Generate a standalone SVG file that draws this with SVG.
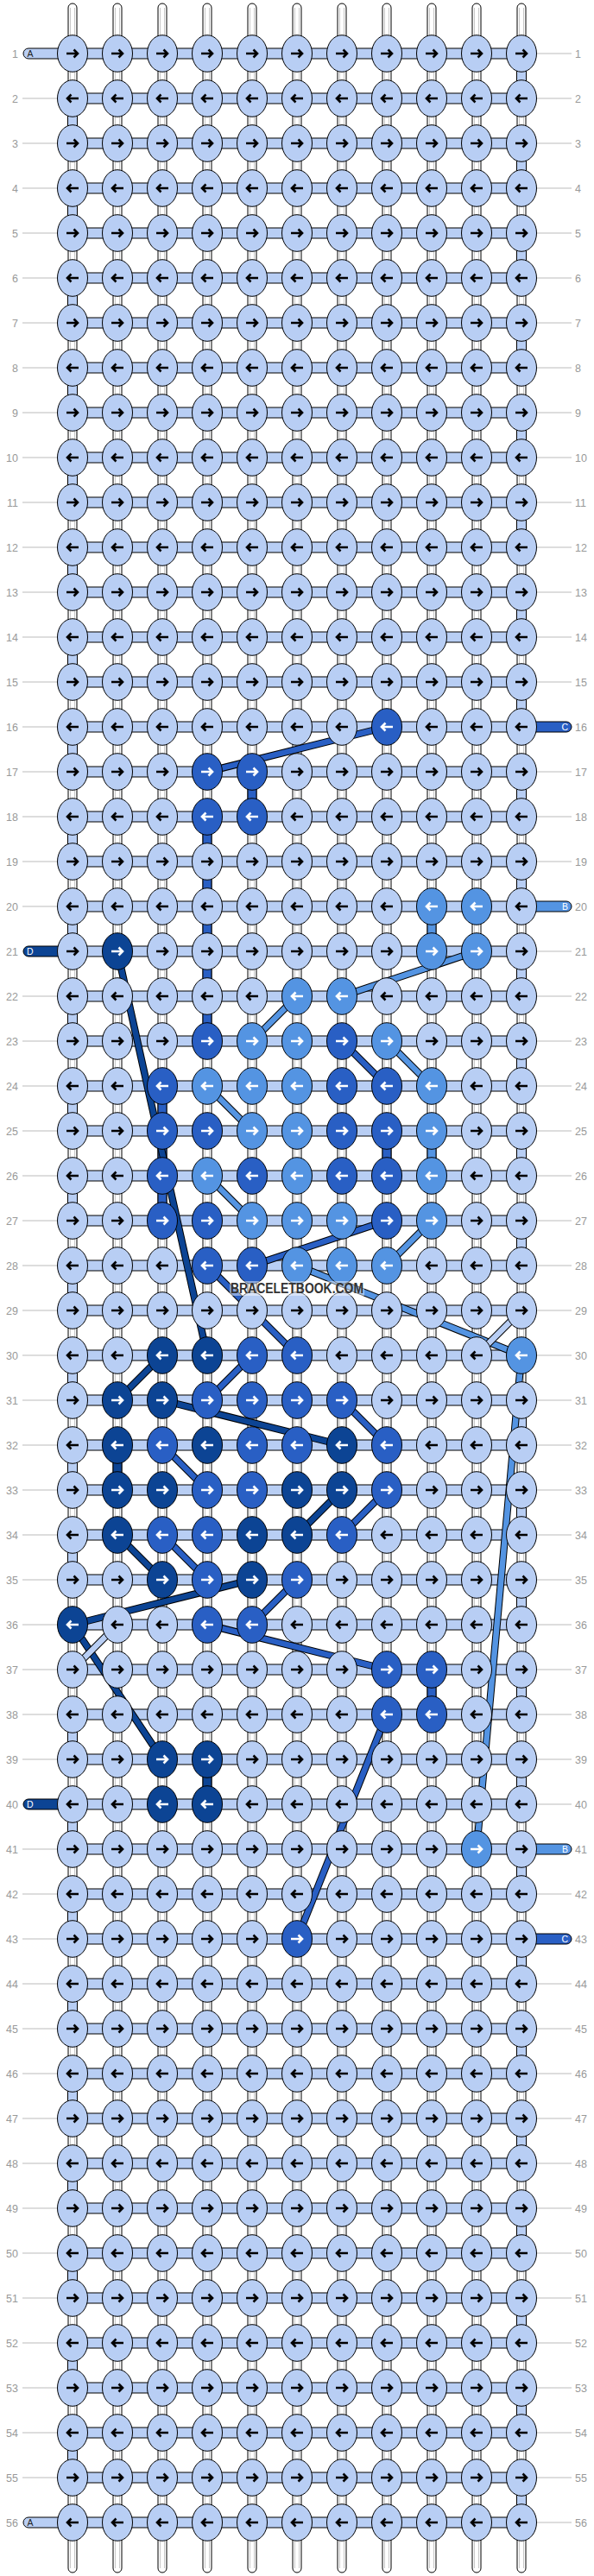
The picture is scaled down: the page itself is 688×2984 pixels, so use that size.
<svg xmlns="http://www.w3.org/2000/svg" xmlns:xlink="http://www.w3.org/1999/xlink" width="688" height="2984" viewBox="0 0 688 2984">
<style>
.k{fill:#b8cef4;color:#000}
.C{fill:#295fc4;color:#fff}
.B{fill:#5494e2;color:#fff}
.D{fill:#0c4494;color:#fff}
.t{fill:#fff;stroke:#000;stroke-width:1}
.il{fill:none;stroke:#c8c8c8;stroke-width:1}
.h{fill:#b8cef4;stroke:#000;stroke-width:1}
.vC{fill:#295fc4;stroke:#000;stroke-width:1}
.vB{fill:#5494e2;stroke:#000;stroke-width:1}
.vD{fill:#0c4494;stroke:#000;stroke-width:1}
.ll{fill:none;stroke:#bbb;stroke-width:1}
.lb{font-family:"Liberation Sans",Arial,sans-serif;font-size:12.5px;fill:#999}
.le{text-anchor:end}
.ct{font-family:"Liberation Sans",Arial,sans-serif;font-size:10.5px}
.o{fill:none;stroke:#000;stroke-width:8.5}
.sC{fill:none;stroke:#295fc4;stroke-width:6.5}
.sB{fill:none;stroke:#5494e2;stroke-width:6.5}
.sD{fill:none;stroke:#0c4494;stroke-width:6.5}
.sA{fill:none;stroke:#b8cef4;stroke-width:6.5}
</style>
<defs>
<g id="R"><ellipse rx="17.5" ry="21.3" stroke="#000" stroke-width="1"/><path d="M-7 0H6M1.5-4.5L6 0L1.5 4.5" fill="none" stroke="currentColor" stroke-width="2.6"/></g>
<g id="L"><ellipse rx="17.5" ry="21.3" stroke="#000" stroke-width="1"/><path d="M7 0H-6M-1.5-4.5L-6 0L-1.5 4.5" fill="none" stroke="currentColor" stroke-width="2.6"/></g>
</defs>
<rect width="688" height="2984" fill="#fff"/>
<g id="connectors">
<g id="tubes">
<rect class="t" x="79" y="4" width="10" height="2976" rx="5"/>
<rect class="t" x="131" y="4" width="10" height="2976" rx="5"/>
<rect class="t" x="183" y="4" width="10" height="2976" rx="5"/>
<rect class="t" x="235" y="4" width="10" height="2976" rx="5"/>
<rect class="t" x="287" y="4" width="10" height="2976" rx="5"/>
<rect class="t" x="339" y="4" width="10" height="2976" rx="5"/>
<rect class="t" x="391" y="4" width="10" height="2976" rx="5"/>
<rect class="t" x="443" y="4" width="10" height="2976" rx="5"/>
<rect class="t" x="495" y="4" width="10" height="2976" rx="5"/>
<rect class="t" x="547" y="4" width="10" height="2976" rx="5"/>
<rect class="t" x="599" y="4" width="10" height="2976" rx="5"/>
<path class="il" d="M81.5 9V2975M86.5 9V2975M133.5 9V2975M138.5 9V2975M185.5 9V2975M190.5 9V2975M237.5 9V2975M242.5 9V2975M289.5 9V2975M294.5 9V2975M341.5 9V2975M346.5 9V2975M393.5 9V2975M398.5 9V2975M445.5 9V2975M450.5 9V2975M497.5 9V2975M502.5 9V2975M549.5 9V2975M554.5 9V2975M601.5 9V2975M606.5 9V2975"/>
</g>
<g id="turns">
<line x1="84" y1="114" x2="84" y2="1830" stroke="#000" stroke-width="12" stroke-dasharray="52 52"/>
<line x1="84" y1="114" x2="84" y2="1830" stroke="#b8cef4" stroke-width="10" stroke-dasharray="52 52"/>
<line x1="84" y1="1986" x2="84" y2="2870" stroke="#000" stroke-width="12" stroke-dasharray="52 52"/>
<line x1="84" y1="1986" x2="84" y2="2870" stroke="#b8cef4" stroke-width="10" stroke-dasharray="52 52"/>
<line x1="604" y1="62" x2="604" y2="1466" stroke="#000" stroke-width="12" stroke-dasharray="52 52"/>
<line x1="604" y1="62" x2="604" y2="1466" stroke="#b8cef4" stroke-width="10" stroke-dasharray="52 52"/>
<line x1="604" y1="1622" x2="604" y2="2922" stroke="#000" stroke-width="12" stroke-dasharray="52 52"/>
<line x1="604" y1="1622" x2="604" y2="2922" stroke="#b8cef4" stroke-width="10" stroke-dasharray="52 52"/>
</g>
<g id="vertical-colored">
<rect class="vC" x="287" y="894" width="10" height="52"/>
<rect class="vC" x="235" y="946" width="10" height="260"/>
<rect class="vC" x="183" y="1258" width="10" height="156"/>
<rect class="vC" x="443" y="1310" width="10" height="52"/>
<rect class="vC" x="495" y="1934" width="10" height="52"/>
<rect class="vB" x="495" y="1050" width="10" height="52"/>
<rect class="vB" x="495" y="1310" width="10" height="52"/>
<rect class="vD" x="131" y="1674" width="10" height="52"/>
<rect class="vD" x="235" y="2038" width="10" height="52"/>
</g>
<g id="rows">
<rect class="h" x="84" y="56" width="520" height="12"/>
<rect class="h" x="84" y="108" width="520" height="12"/>
<rect class="h" x="84" y="160" width="520" height="12"/>
<rect class="h" x="84" y="212" width="520" height="12"/>
<rect class="h" x="84" y="264" width="520" height="12"/>
<rect class="h" x="84" y="316" width="520" height="12"/>
<rect class="h" x="84" y="368" width="520" height="12"/>
<rect class="h" x="84" y="420" width="520" height="12"/>
<rect class="h" x="84" y="472" width="520" height="12"/>
<rect class="h" x="84" y="524" width="520" height="12"/>
<rect class="h" x="84" y="576" width="520" height="12"/>
<rect class="h" x="84" y="628" width="520" height="12"/>
<rect class="h" x="84" y="680" width="520" height="12"/>
<rect class="h" x="84" y="732" width="520" height="12"/>
<rect class="h" x="84" y="784" width="520" height="12"/>
<rect class="h" x="84" y="836" width="520" height="12"/>
<rect class="h" x="84" y="888" width="520" height="12"/>
<rect class="h" x="84" y="940" width="520" height="12"/>
<rect class="h" x="84" y="992" width="520" height="12"/>
<rect class="h" x="84" y="1044" width="520" height="12"/>
<rect class="h" x="84" y="1096" width="520" height="12"/>
<rect class="h" x="84" y="1148" width="520" height="12"/>
<rect class="h" x="84" y="1200" width="520" height="12"/>
<rect class="h" x="84" y="1252" width="520" height="12"/>
<rect class="h" x="84" y="1304" width="520" height="12"/>
<rect class="h" x="84" y="1356" width="520" height="12"/>
<rect class="h" x="84" y="1408" width="520" height="12"/>
<rect class="h" x="84" y="1460" width="520" height="12"/>
<rect class="h" x="84" y="1512" width="520" height="12"/>
<rect class="h" x="84" y="1564" width="520" height="12"/>
<rect class="h" x="84" y="1616" width="520" height="12"/>
<rect class="h" x="84" y="1668" width="520" height="12"/>
<rect class="h" x="84" y="1720" width="520" height="12"/>
<rect class="h" x="84" y="1772" width="520" height="12"/>
<rect class="h" x="84" y="1824" width="520" height="12"/>
<rect class="h" x="84" y="1876" width="520" height="12"/>
<rect class="h" x="84" y="1928" width="520" height="12"/>
<rect class="h" x="84" y="1980" width="520" height="12"/>
<rect class="h" x="84" y="2032" width="520" height="12"/>
<rect class="h" x="84" y="2084" width="520" height="12"/>
<rect class="h" x="84" y="2136" width="520" height="12"/>
<rect class="h" x="84" y="2188" width="520" height="12"/>
<rect class="h" x="84" y="2240" width="520" height="12"/>
<rect class="h" x="84" y="2292" width="520" height="12"/>
<rect class="h" x="84" y="2344" width="520" height="12"/>
<rect class="h" x="84" y="2396" width="520" height="12"/>
<rect class="h" x="84" y="2448" width="520" height="12"/>
<rect class="h" x="84" y="2500" width="520" height="12"/>
<rect class="h" x="84" y="2552" width="520" height="12"/>
<rect class="h" x="84" y="2604" width="520" height="12"/>
<rect class="h" x="84" y="2656" width="520" height="12"/>
<rect class="h" x="84" y="2708" width="520" height="12"/>
<rect class="h" x="84" y="2760" width="520" height="12"/>
<rect class="h" x="84" y="2812" width="520" height="12"/>
<rect class="h" x="84" y="2864" width="520" height="12"/>
<rect class="h" x="84" y="2916" width="520" height="12"/>
</g>
<g id="capsules">
<rect x="27" y="56" width="60" height="12" rx="6" fill="#b8cef4" stroke="#000"/>
<text class="ct" x="31.5" y="66" fill="#222">A</text>
<rect x="27" y="1096" width="60" height="12" rx="6" fill="#0c4494" stroke="#000"/>
<text class="ct" x="31" y="1106" fill="#fff">D</text>
<rect x="27" y="2084" width="60" height="12" rx="6" fill="#0c4494" stroke="#000"/>
<text class="ct" x="31" y="2094" fill="#fff">D</text>
<rect x="27" y="2916" width="60" height="12" rx="6" fill="#b8cef4" stroke="#000"/>
<text class="ct" x="31.5" y="2926" fill="#222">A</text>
<rect x="600" y="836" width="62" height="12" rx="6" fill="#295fc4" stroke="#000"/>
<text class="ct le" x="658" y="846" fill="#fff">C</text>
<rect x="600" y="1044" width="62" height="12" rx="6" fill="#5494e2" stroke="#000"/>
<text class="ct le" x="658" y="1054" fill="#fff">B</text>
<rect x="600" y="2136" width="62" height="12" rx="6" fill="#5494e2" stroke="#000"/>
<text class="ct le" x="658" y="2146" fill="#fff">B</text>
<rect x="600" y="2240" width="62" height="12" rx="6" fill="#295fc4" stroke="#000"/>
<text class="ct le" x="658" y="2250" fill="#fff">C</text>
</g>
<g id="strands">
<path class="o" d="M448 842L240 894"/><path class="sC" d="M448 842L240 894"/>
<path class="o" d="M552 1102L396 1154"/><path class="sB" d="M552 1102L396 1154"/>
<path class="o" d="M344 1154L292 1206"/><path class="sB" d="M344 1154L292 1206"/>
<path class="o" d="M396 1206L448 1258"/><path class="sC" d="M396 1206L448 1258"/>
<path class="o" d="M448 1206L500 1258"/><path class="sB" d="M448 1206L500 1258"/>
<path class="o" d="M240 1258L292 1310"/><path class="sB" d="M240 1258L292 1310"/>
<path class="o" d="M240 1362L292 1414"/><path class="sB" d="M240 1362L292 1414"/>
<path class="o" d="M448 1414L292 1466"/><path class="sC" d="M448 1414L292 1466"/>
<path class="o" d="M500 1414L448 1466"/><path class="sB" d="M500 1414L448 1466"/>
<path class="o" d="M136 1102L240 1570"/><path class="sD" d="M136 1102L240 1570"/>
<path class="o" d="M240 1466L344 1570"/><path class="sC" d="M240 1466L344 1570"/>
<path class="o" d="M344 1466L604 1570"/><path class="sB" d="M344 1466L604 1570"/>
<path class="o" d="M604 1570L552 2142"/><path class="sB" d="M604 1570L552 2142"/>
<path class="o" d="M188 1570L136 1622"/><path class="sD" d="M188 1570L136 1622"/>
<path class="o" d="M292 1570L240 1622"/><path class="sC" d="M292 1570L240 1622"/>
<path class="o" d="M188 1622L396 1674"/><path class="sD" d="M188 1622L396 1674"/>
<path class="o" d="M396 1622L448 1674"/><path class="sC" d="M396 1622L448 1674"/>
<path class="o" d="M188 1674L240 1726"/><path class="sC" d="M188 1674L240 1726"/>
<path class="o" d="M396 1726L344 1778"/><path class="sD" d="M396 1726L344 1778"/>
<path class="o" d="M448 1726L396 1778"/><path class="sC" d="M448 1726L396 1778"/>
<path class="o" d="M136 1778L188 1830"/><path class="sD" d="M136 1778L188 1830"/>
<path class="o" d="M188 1778L240 1830"/><path class="sC" d="M188 1778L240 1830"/>
<path class="o" d="M292 1830L84 1882"/><path class="sD" d="M292 1830L84 1882"/>
<path class="o" d="M344 1830L292 1882"/><path class="sC" d="M344 1830L292 1882"/>
<path class="o" d="M84 1882L188 2038"/><path class="sD" d="M84 1882L188 2038"/>
<path class="o" d="M240 1882L448 1934"/><path class="sC" d="M240 1882L448 1934"/>
<path class="o" d="M448 1986L344 2246"/><path class="sC" d="M448 1986L344 2246"/>
<path class="o" d="M604 1518L552 1570"/><path class="sA" d="M604 1518L552 1570"/>
<path class="o" d="M136 1882L84 1934"/><path class="sA" d="M136 1882L84 1934"/>
</g>
</g>
<g id="row-labels">
<path class="ll" d="M26 114h40M26 166h40M26 218h40M26 270h40M26 322h40M26 374h40M26 426h40M26 478h40M26 530h40M26 582h40M26 634h40M26 686h40M26 738h40M26 790h40M26 842h40M26 894h40M26 946h40M26 998h40M26 1050h40M26 1154h40M26 1206h40M26 1258h40M26 1310h40M26 1362h40M26 1414h40M26 1466h40M26 1518h40M26 1570h40M26 1622h40M26 1674h40M26 1726h40M26 1778h40M26 1830h40M26 1882h40M26 1934h40M26 1986h40M26 2038h40M26 2142h40M26 2194h40M26 2246h40M26 2298h40M26 2350h40M26 2402h40M26 2454h40M26 2506h40M26 2558h40M26 2610h40M26 2662h40M26 2714h40M26 2766h40M26 2818h40M26 2870h40"/>
<path class="ll" d="M622 62h40M622 114h40M622 166h40M622 218h40M622 270h40M622 322h40M622 374h40M622 426h40M622 478h40M622 530h40M622 582h40M622 634h40M622 686h40M622 738h40M622 790h40M622 894h40M622 946h40M622 998h40M622 1102h40M622 1154h40M622 1206h40M622 1258h40M622 1310h40M622 1362h40M622 1414h40M622 1466h40M622 1518h40M622 1570h40M622 1622h40M622 1674h40M622 1726h40M622 1778h40M622 1830h40M622 1882h40M622 1934h40M622 1986h40M622 2038h40M622 2090h40M622 2194h40M622 2298h40M622 2350h40M622 2402h40M622 2454h40M622 2506h40M622 2558h40M622 2610h40M622 2662h40M622 2714h40M622 2766h40M622 2818h40M622 2870h40M622 2922h40"/>
<g class="lb le">
<text x="21" y="66.5">1</text><text x="21" y="118.5">2</text><text x="21" y="170.5">3</text><text x="21" y="222.5">4</text><text x="21" y="274.5">5</text><text x="21" y="326.5">6</text><text x="21" y="378.5">7</text><text x="21" y="430.5">8</text><text x="21" y="482.5">9</text><text x="21" y="534.5">10</text><text x="21" y="586.5">11</text><text x="21" y="638.5">12</text><text x="21" y="690.5">13</text><text x="21" y="742.5">14</text><text x="21" y="794.5">15</text><text x="21" y="846.5">16</text><text x="21" y="898.5">17</text><text x="21" y="950.5">18</text><text x="21" y="1002.5">19</text><text x="21" y="1054.5">20</text><text x="21" y="1106.5">21</text><text x="21" y="1158.5">22</text><text x="21" y="1210.5">23</text><text x="21" y="1262.5">24</text><text x="21" y="1314.5">25</text><text x="21" y="1366.5">26</text><text x="21" y="1418.5">27</text><text x="21" y="1470.5">28</text><text x="21" y="1522.5">29</text><text x="21" y="1574.5">30</text><text x="21" y="1626.5">31</text><text x="21" y="1678.5">32</text><text x="21" y="1730.5">33</text><text x="21" y="1782.5">34</text><text x="21" y="1834.5">35</text><text x="21" y="1886.5">36</text><text x="21" y="1938.5">37</text><text x="21" y="1990.5">38</text><text x="21" y="2042.5">39</text><text x="21" y="2094.5">40</text><text x="21" y="2146.5">41</text><text x="21" y="2198.5">42</text><text x="21" y="2250.5">43</text><text x="21" y="2302.5">44</text><text x="21" y="2354.5">45</text><text x="21" y="2406.5">46</text><text x="21" y="2458.5">47</text><text x="21" y="2510.5">48</text><text x="21" y="2562.5">49</text><text x="21" y="2614.5">50</text><text x="21" y="2666.5">51</text><text x="21" y="2718.5">52</text><text x="21" y="2770.5">53</text><text x="21" y="2822.5">54</text><text x="21" y="2874.5">55</text><text x="21" y="2926.5">56</text>
</g>
<g class="lb">
<text x="666" y="66.5">1</text><text x="666" y="118.5">2</text><text x="666" y="170.5">3</text><text x="666" y="222.5">4</text><text x="666" y="274.5">5</text><text x="666" y="326.5">6</text><text x="666" y="378.5">7</text><text x="666" y="430.5">8</text><text x="666" y="482.5">9</text><text x="666" y="534.5">10</text><text x="666" y="586.5">11</text><text x="666" y="638.5">12</text><text x="666" y="690.5">13</text><text x="666" y="742.5">14</text><text x="666" y="794.5">15</text><text x="666" y="846.5">16</text><text x="666" y="898.5">17</text><text x="666" y="950.5">18</text><text x="666" y="1002.5">19</text><text x="666" y="1054.5">20</text><text x="666" y="1106.5">21</text><text x="666" y="1158.5">22</text><text x="666" y="1210.5">23</text><text x="666" y="1262.5">24</text><text x="666" y="1314.5">25</text><text x="666" y="1366.5">26</text><text x="666" y="1418.5">27</text><text x="666" y="1470.5">28</text><text x="666" y="1522.5">29</text><text x="666" y="1574.5">30</text><text x="666" y="1626.5">31</text><text x="666" y="1678.5">32</text><text x="666" y="1730.5">33</text><text x="666" y="1782.5">34</text><text x="666" y="1834.5">35</text><text x="666" y="1886.5">36</text><text x="666" y="1938.5">37</text><text x="666" y="1990.5">38</text><text x="666" y="2042.5">39</text><text x="666" y="2094.5">40</text><text x="666" y="2146.5">41</text><text x="666" y="2198.5">42</text><text x="666" y="2250.5">43</text><text x="666" y="2302.5">44</text><text x="666" y="2354.5">45</text><text x="666" y="2406.5">46</text><text x="666" y="2458.5">47</text><text x="666" y="2510.5">48</text><text x="666" y="2562.5">49</text><text x="666" y="2614.5">50</text><text x="666" y="2666.5">51</text><text x="666" y="2718.5">52</text><text x="666" y="2770.5">53</text><text x="666" y="2822.5">54</text><text x="666" y="2874.5">55</text><text x="666" y="2926.5">56</text>
</g>
</g>
<g id="knots">
<g class="k" transform="translate(0 62)"><g id="n1_1"><use href="#R" x="84"/></g><g id="n1_2"><use href="#R" x="136"/></g><g id="n1_3"><use href="#R" x="188"/></g><g id="n1_4"><use href="#R" x="240"/></g><g id="n1_5"><use href="#R" x="292"/></g><g id="n1_6"><use href="#R" x="344"/></g><g id="n1_7"><use href="#R" x="396"/></g><g id="n1_8"><use href="#R" x="448"/></g><g id="n1_9"><use href="#R" x="500"/></g><g id="n1_10"><use href="#R" x="552"/></g><g id="n1_11"><use href="#R" x="604"/></g></g>
<g class="k" transform="translate(0 114)"><g id="n2_1"><use href="#L" x="84"/></g><g id="n2_2"><use href="#L" x="136"/></g><g id="n2_3"><use href="#L" x="188"/></g><g id="n2_4"><use href="#L" x="240"/></g><g id="n2_5"><use href="#L" x="292"/></g><g id="n2_6"><use href="#L" x="344"/></g><g id="n2_7"><use href="#L" x="396"/></g><g id="n2_8"><use href="#L" x="448"/></g><g id="n2_9"><use href="#L" x="500"/></g><g id="n2_10"><use href="#L" x="552"/></g><g id="n2_11"><use href="#L" x="604"/></g></g>
<g class="k" transform="translate(0 166)"><g id="n3_1"><use href="#R" x="84"/></g><g id="n3_2"><use href="#R" x="136"/></g><g id="n3_3"><use href="#R" x="188"/></g><g id="n3_4"><use href="#R" x="240"/></g><g id="n3_5"><use href="#R" x="292"/></g><g id="n3_6"><use href="#R" x="344"/></g><g id="n3_7"><use href="#R" x="396"/></g><g id="n3_8"><use href="#R" x="448"/></g><g id="n3_9"><use href="#R" x="500"/></g><g id="n3_10"><use href="#R" x="552"/></g><g id="n3_11"><use href="#R" x="604"/></g></g>
<g class="k" transform="translate(0 218)"><g id="n4_1"><use href="#L" x="84"/></g><g id="n4_2"><use href="#L" x="136"/></g><g id="n4_3"><use href="#L" x="188"/></g><g id="n4_4"><use href="#L" x="240"/></g><g id="n4_5"><use href="#L" x="292"/></g><g id="n4_6"><use href="#L" x="344"/></g><g id="n4_7"><use href="#L" x="396"/></g><g id="n4_8"><use href="#L" x="448"/></g><g id="n4_9"><use href="#L" x="500"/></g><g id="n4_10"><use href="#L" x="552"/></g><g id="n4_11"><use href="#L" x="604"/></g></g>
<g class="k" transform="translate(0 270)"><g id="n5_1"><use href="#R" x="84"/></g><g id="n5_2"><use href="#R" x="136"/></g><g id="n5_3"><use href="#R" x="188"/></g><g id="n5_4"><use href="#R" x="240"/></g><g id="n5_5"><use href="#R" x="292"/></g><g id="n5_6"><use href="#R" x="344"/></g><g id="n5_7"><use href="#R" x="396"/></g><g id="n5_8"><use href="#R" x="448"/></g><g id="n5_9"><use href="#R" x="500"/></g><g id="n5_10"><use href="#R" x="552"/></g><g id="n5_11"><use href="#R" x="604"/></g></g>
<g class="k" transform="translate(0 322)"><g id="n6_1"><use href="#L" x="84"/></g><g id="n6_2"><use href="#L" x="136"/></g><g id="n6_3"><use href="#L" x="188"/></g><g id="n6_4"><use href="#L" x="240"/></g><g id="n6_5"><use href="#L" x="292"/></g><g id="n6_6"><use href="#L" x="344"/></g><g id="n6_7"><use href="#L" x="396"/></g><g id="n6_8"><use href="#L" x="448"/></g><g id="n6_9"><use href="#L" x="500"/></g><g id="n6_10"><use href="#L" x="552"/></g><g id="n6_11"><use href="#L" x="604"/></g></g>
<g class="k" transform="translate(0 374)"><g id="n7_1"><use href="#R" x="84"/></g><g id="n7_2"><use href="#R" x="136"/></g><g id="n7_3"><use href="#R" x="188"/></g><g id="n7_4"><use href="#R" x="240"/></g><g id="n7_5"><use href="#R" x="292"/></g><g id="n7_6"><use href="#R" x="344"/></g><g id="n7_7"><use href="#R" x="396"/></g><g id="n7_8"><use href="#R" x="448"/></g><g id="n7_9"><use href="#R" x="500"/></g><g id="n7_10"><use href="#R" x="552"/></g><g id="n7_11"><use href="#R" x="604"/></g></g>
<g class="k" transform="translate(0 426)"><g id="n8_1"><use href="#L" x="84"/></g><g id="n8_2"><use href="#L" x="136"/></g><g id="n8_3"><use href="#L" x="188"/></g><g id="n8_4"><use href="#L" x="240"/></g><g id="n8_5"><use href="#L" x="292"/></g><g id="n8_6"><use href="#L" x="344"/></g><g id="n8_7"><use href="#L" x="396"/></g><g id="n8_8"><use href="#L" x="448"/></g><g id="n8_9"><use href="#L" x="500"/></g><g id="n8_10"><use href="#L" x="552"/></g><g id="n8_11"><use href="#L" x="604"/></g></g>
<g class="k" transform="translate(0 478)"><g id="n9_1"><use href="#R" x="84"/></g><g id="n9_2"><use href="#R" x="136"/></g><g id="n9_3"><use href="#R" x="188"/></g><g id="n9_4"><use href="#R" x="240"/></g><g id="n9_5"><use href="#R" x="292"/></g><g id="n9_6"><use href="#R" x="344"/></g><g id="n9_7"><use href="#R" x="396"/></g><g id="n9_8"><use href="#R" x="448"/></g><g id="n9_9"><use href="#R" x="500"/></g><g id="n9_10"><use href="#R" x="552"/></g><g id="n9_11"><use href="#R" x="604"/></g></g>
<g class="k" transform="translate(0 530)"><g id="n10_1"><use href="#L" x="84"/></g><g id="n10_2"><use href="#L" x="136"/></g><g id="n10_3"><use href="#L" x="188"/></g><g id="n10_4"><use href="#L" x="240"/></g><g id="n10_5"><use href="#L" x="292"/></g><g id="n10_6"><use href="#L" x="344"/></g><g id="n10_7"><use href="#L" x="396"/></g><g id="n10_8"><use href="#L" x="448"/></g><g id="n10_9"><use href="#L" x="500"/></g><g id="n10_10"><use href="#L" x="552"/></g><g id="n10_11"><use href="#L" x="604"/></g></g>
<g class="k" transform="translate(0 582)"><g id="n11_1"><use href="#R" x="84"/></g><g id="n11_2"><use href="#R" x="136"/></g><g id="n11_3"><use href="#R" x="188"/></g><g id="n11_4"><use href="#R" x="240"/></g><g id="n11_5"><use href="#R" x="292"/></g><g id="n11_6"><use href="#R" x="344"/></g><g id="n11_7"><use href="#R" x="396"/></g><g id="n11_8"><use href="#R" x="448"/></g><g id="n11_9"><use href="#R" x="500"/></g><g id="n11_10"><use href="#R" x="552"/></g><g id="n11_11"><use href="#R" x="604"/></g></g>
<g class="k" transform="translate(0 634)"><g id="n12_1"><use href="#L" x="84"/></g><g id="n12_2"><use href="#L" x="136"/></g><g id="n12_3"><use href="#L" x="188"/></g><g id="n12_4"><use href="#L" x="240"/></g><g id="n12_5"><use href="#L" x="292"/></g><g id="n12_6"><use href="#L" x="344"/></g><g id="n12_7"><use href="#L" x="396"/></g><g id="n12_8"><use href="#L" x="448"/></g><g id="n12_9"><use href="#L" x="500"/></g><g id="n12_10"><use href="#L" x="552"/></g><g id="n12_11"><use href="#L" x="604"/></g></g>
<g class="k" transform="translate(0 686)"><g id="n13_1"><use href="#R" x="84"/></g><g id="n13_2"><use href="#R" x="136"/></g><g id="n13_3"><use href="#R" x="188"/></g><g id="n13_4"><use href="#R" x="240"/></g><g id="n13_5"><use href="#R" x="292"/></g><g id="n13_6"><use href="#R" x="344"/></g><g id="n13_7"><use href="#R" x="396"/></g><g id="n13_8"><use href="#R" x="448"/></g><g id="n13_9"><use href="#R" x="500"/></g><g id="n13_10"><use href="#R" x="552"/></g><g id="n13_11"><use href="#R" x="604"/></g></g>
<g class="k" transform="translate(0 738)"><g id="n14_1"><use href="#L" x="84"/></g><g id="n14_2"><use href="#L" x="136"/></g><g id="n14_3"><use href="#L" x="188"/></g><g id="n14_4"><use href="#L" x="240"/></g><g id="n14_5"><use href="#L" x="292"/></g><g id="n14_6"><use href="#L" x="344"/></g><g id="n14_7"><use href="#L" x="396"/></g><g id="n14_8"><use href="#L" x="448"/></g><g id="n14_9"><use href="#L" x="500"/></g><g id="n14_10"><use href="#L" x="552"/></g><g id="n14_11"><use href="#L" x="604"/></g></g>
<g class="k" transform="translate(0 790)"><g id="n15_1"><use href="#R" x="84"/></g><g id="n15_2"><use href="#R" x="136"/></g><g id="n15_3"><use href="#R" x="188"/></g><g id="n15_4"><use href="#R" x="240"/></g><g id="n15_5"><use href="#R" x="292"/></g><g id="n15_6"><use href="#R" x="344"/></g><g id="n15_7"><use href="#R" x="396"/></g><g id="n15_8"><use href="#R" x="448"/></g><g id="n15_9"><use href="#R" x="500"/></g><g id="n15_10"><use href="#R" x="552"/></g><g id="n15_11"><use href="#R" x="604"/></g></g>
<g class="k" transform="translate(0 842)"><g id="n16_1"><use href="#L" x="84"/></g><g id="n16_2"><use href="#L" x="136"/></g><g id="n16_3"><use href="#L" x="188"/></g><g id="n16_4"><use href="#L" x="240"/></g><g id="n16_5"><use href="#L" x="292"/></g><g id="n16_6"><use href="#L" x="344"/></g><g id="n16_7"><use href="#L" x="396"/></g><g id="n16_8" class="C"><use href="#L" x="448"/></g><g id="n16_9"><use href="#L" x="500"/></g><g id="n16_10"><use href="#L" x="552"/></g><g id="n16_11"><use href="#L" x="604"/></g></g>
<g class="k" transform="translate(0 894)"><g id="n17_1"><use href="#R" x="84"/></g><g id="n17_2"><use href="#R" x="136"/></g><g id="n17_3"><use href="#R" x="188"/></g><g id="n17_4" class="C"><use href="#R" x="240"/></g><g id="n17_5" class="C"><use href="#R" x="292"/></g><g id="n17_6"><use href="#R" x="344"/></g><g id="n17_7"><use href="#R" x="396"/></g><g id="n17_8"><use href="#R" x="448"/></g><g id="n17_9"><use href="#R" x="500"/></g><g id="n17_10"><use href="#R" x="552"/></g><g id="n17_11"><use href="#R" x="604"/></g></g>
<g class="k" transform="translate(0 946)"><g id="n18_1"><use href="#L" x="84"/></g><g id="n18_2"><use href="#L" x="136"/></g><g id="n18_3"><use href="#L" x="188"/></g><g id="n18_4" class="C"><use href="#L" x="240"/></g><g id="n18_5" class="C"><use href="#L" x="292"/></g><g id="n18_6"><use href="#L" x="344"/></g><g id="n18_7"><use href="#L" x="396"/></g><g id="n18_8"><use href="#L" x="448"/></g><g id="n18_9"><use href="#L" x="500"/></g><g id="n18_10"><use href="#L" x="552"/></g><g id="n18_11"><use href="#L" x="604"/></g></g>
<g class="k" transform="translate(0 998)"><g id="n19_1"><use href="#R" x="84"/></g><g id="n19_2"><use href="#R" x="136"/></g><g id="n19_3"><use href="#R" x="188"/></g><g id="n19_4"><use href="#R" x="240"/></g><g id="n19_5"><use href="#R" x="292"/></g><g id="n19_6"><use href="#R" x="344"/></g><g id="n19_7"><use href="#R" x="396"/></g><g id="n19_8"><use href="#R" x="448"/></g><g id="n19_9"><use href="#R" x="500"/></g><g id="n19_10"><use href="#R" x="552"/></g><g id="n19_11"><use href="#R" x="604"/></g></g>
<g class="k" transform="translate(0 1050)"><g id="n20_1"><use href="#L" x="84"/></g><g id="n20_2"><use href="#L" x="136"/></g><g id="n20_3"><use href="#L" x="188"/></g><g id="n20_4"><use href="#L" x="240"/></g><g id="n20_5"><use href="#L" x="292"/></g><g id="n20_6"><use href="#L" x="344"/></g><g id="n20_7"><use href="#L" x="396"/></g><g id="n20_8"><use href="#L" x="448"/></g><g id="n20_9" class="B"><use href="#L" x="500"/></g><g id="n20_10" class="B"><use href="#L" x="552"/></g><g id="n20_11"><use href="#L" x="604"/></g></g>
<g class="k" transform="translate(0 1102)"><g id="n21_1"><use href="#R" x="84"/></g><g id="n21_2" class="D"><use href="#R" x="136"/></g><g id="n21_3"><use href="#R" x="188"/></g><g id="n21_4"><use href="#R" x="240"/></g><g id="n21_5"><use href="#R" x="292"/></g><g id="n21_6"><use href="#R" x="344"/></g><g id="n21_7"><use href="#R" x="396"/></g><g id="n21_8"><use href="#R" x="448"/></g><g id="n21_9" class="B"><use href="#R" x="500"/></g><g id="n21_10" class="B"><use href="#R" x="552"/></g><g id="n21_11"><use href="#R" x="604"/></g></g>
<g class="k" transform="translate(0 1154)"><g id="n22_1"><use href="#L" x="84"/></g><g id="n22_2"><use href="#L" x="136"/></g><g id="n22_3"><use href="#L" x="188"/></g><g id="n22_4"><use href="#L" x="240"/></g><g id="n22_5"><use href="#L" x="292"/></g><g id="n22_6" class="B"><use href="#L" x="344"/></g><g id="n22_7" class="B"><use href="#L" x="396"/></g><g id="n22_8"><use href="#L" x="448"/></g><g id="n22_9"><use href="#L" x="500"/></g><g id="n22_10"><use href="#L" x="552"/></g><g id="n22_11"><use href="#L" x="604"/></g></g>
<g class="k" transform="translate(0 1206)"><g id="n23_1"><use href="#R" x="84"/></g><g id="n23_2"><use href="#R" x="136"/></g><g id="n23_3"><use href="#R" x="188"/></g><g id="n23_4" class="C"><use href="#R" x="240"/></g><g id="n23_5" class="B"><use href="#R" x="292"/></g><g id="n23_6" class="B"><use href="#R" x="344"/></g><g id="n23_7" class="C"><use href="#R" x="396"/></g><g id="n23_8" class="B"><use href="#R" x="448"/></g><g id="n23_9"><use href="#R" x="500"/></g><g id="n23_10"><use href="#R" x="552"/></g><g id="n23_11"><use href="#R" x="604"/></g></g>
<g class="k" transform="translate(0 1258)"><g id="n24_1"><use href="#L" x="84"/></g><g id="n24_2"><use href="#L" x="136"/></g><g id="n24_3" class="C"><use href="#L" x="188"/></g><g id="n24_4" class="B"><use href="#L" x="240"/></g><g id="n24_5" class="B"><use href="#L" x="292"/></g><g id="n24_6" class="B"><use href="#L" x="344"/></g><g id="n24_7" class="C"><use href="#L" x="396"/></g><g id="n24_8" class="C"><use href="#L" x="448"/></g><g id="n24_9" class="B"><use href="#L" x="500"/></g><g id="n24_10"><use href="#L" x="552"/></g><g id="n24_11"><use href="#L" x="604"/></g></g>
<g class="k" transform="translate(0 1310)"><g id="n25_1"><use href="#R" x="84"/></g><g id="n25_2"><use href="#R" x="136"/></g><g id="n25_3" class="C"><use href="#R" x="188"/></g><g id="n25_4" class="C"><use href="#R" x="240"/></g><g id="n25_5" class="B"><use href="#R" x="292"/></g><g id="n25_6" class="B"><use href="#R" x="344"/></g><g id="n25_7" class="C"><use href="#R" x="396"/></g><g id="n25_8" class="C"><use href="#R" x="448"/></g><g id="n25_9" class="B"><use href="#R" x="500"/></g><g id="n25_10"><use href="#R" x="552"/></g><g id="n25_11"><use href="#R" x="604"/></g></g>
<g class="k" transform="translate(0 1362)"><g id="n26_1"><use href="#L" x="84"/></g><g id="n26_2"><use href="#L" x="136"/></g><g id="n26_3" class="C"><use href="#L" x="188"/></g><g id="n26_4" class="B"><use href="#L" x="240"/></g><g id="n26_5" class="C"><use href="#L" x="292"/></g><g id="n26_6" class="B"><use href="#L" x="344"/></g><g id="n26_7" class="C"><use href="#L" x="396"/></g><g id="n26_8" class="C"><use href="#L" x="448"/></g><g id="n26_9" class="B"><use href="#L" x="500"/></g><g id="n26_10"><use href="#L" x="552"/></g><g id="n26_11"><use href="#L" x="604"/></g></g>
<g class="k" transform="translate(0 1414)"><g id="n27_1"><use href="#R" x="84"/></g><g id="n27_2"><use href="#R" x="136"/></g><g id="n27_3" class="C"><use href="#R" x="188"/></g><g id="n27_4" class="C"><use href="#R" x="240"/></g><g id="n27_5" class="B"><use href="#R" x="292"/></g><g id="n27_6" class="B"><use href="#R" x="344"/></g><g id="n27_7" class="B"><use href="#R" x="396"/></g><g id="n27_8" class="C"><use href="#R" x="448"/></g><g id="n27_9" class="B"><use href="#R" x="500"/></g><g id="n27_10"><use href="#R" x="552"/></g><g id="n27_11"><use href="#R" x="604"/></g></g>
<g class="k" transform="translate(0 1466)"><g id="n28_1"><use href="#L" x="84"/></g><g id="n28_2"><use href="#L" x="136"/></g><g id="n28_3"><use href="#L" x="188"/></g><g id="n28_4" class="C"><use href="#L" x="240"/></g><g id="n28_5" class="C"><use href="#L" x="292"/></g><g id="n28_6" class="B"><use href="#L" x="344"/></g><g id="n28_7" class="B"><use href="#L" x="396"/></g><g id="n28_8" class="B"><use href="#L" x="448"/></g><g id="n28_9"><use href="#L" x="500"/></g><g id="n28_10"><use href="#L" x="552"/></g><g id="n28_11"><use href="#L" x="604"/></g></g>
<g class="k" transform="translate(0 1518)"><g id="n29_1"><use href="#R" x="84"/></g><g id="n29_2"><use href="#R" x="136"/></g><g id="n29_3"><use href="#R" x="188"/></g><g id="n29_4"><use href="#R" x="240"/></g><g id="n29_5"><use href="#R" x="292"/></g><g id="n29_6"><use href="#R" x="344"/></g><g id="n29_7"><use href="#R" x="396"/></g><g id="n29_8"><use href="#R" x="448"/></g><g id="n29_9"><use href="#R" x="500"/></g><g id="n29_10"><use href="#R" x="552"/></g><g id="n29_11"><use href="#R" x="604"/></g></g>
<g class="k" transform="translate(0 1570)"><g id="n30_1"><use href="#L" x="84"/></g><g id="n30_2"><use href="#L" x="136"/></g><g id="n30_3" class="D"><use href="#L" x="188"/></g><g id="n30_4" class="D"><use href="#L" x="240"/></g><g id="n30_5" class="C"><use href="#L" x="292"/></g><g id="n30_6" class="C"><use href="#L" x="344"/></g><g id="n30_7"><use href="#L" x="396"/></g><g id="n30_8"><use href="#L" x="448"/></g><g id="n30_9"><use href="#L" x="500"/></g><g id="n30_10"><use href="#L" x="552"/></g><g id="n30_11" class="B"><use href="#L" x="604"/></g></g>
<g class="k" transform="translate(0 1622)"><g id="n31_1"><use href="#R" x="84"/></g><g id="n31_2" class="D"><use href="#R" x="136"/></g><g id="n31_3" class="D"><use href="#R" x="188"/></g><g id="n31_4" class="C"><use href="#R" x="240"/></g><g id="n31_5" class="C"><use href="#R" x="292"/></g><g id="n31_6" class="C"><use href="#R" x="344"/></g><g id="n31_7" class="C"><use href="#R" x="396"/></g><g id="n31_8"><use href="#R" x="448"/></g><g id="n31_9"><use href="#R" x="500"/></g><g id="n31_10"><use href="#R" x="552"/></g><g id="n31_11"><use href="#R" x="604"/></g></g>
<g class="k" transform="translate(0 1674)"><g id="n32_1"><use href="#L" x="84"/></g><g id="n32_2" class="D"><use href="#L" x="136"/></g><g id="n32_3" class="C"><use href="#L" x="188"/></g><g id="n32_4" class="D"><use href="#L" x="240"/></g><g id="n32_5" class="C"><use href="#L" x="292"/></g><g id="n32_6" class="C"><use href="#L" x="344"/></g><g id="n32_7" class="D"><use href="#L" x="396"/></g><g id="n32_8" class="C"><use href="#L" x="448"/></g><g id="n32_9"><use href="#L" x="500"/></g><g id="n32_10"><use href="#L" x="552"/></g><g id="n32_11"><use href="#L" x="604"/></g></g>
<g class="k" transform="translate(0 1726)"><g id="n33_1"><use href="#R" x="84"/></g><g id="n33_2" class="D"><use href="#R" x="136"/></g><g id="n33_3" class="D"><use href="#R" x="188"/></g><g id="n33_4" class="C"><use href="#R" x="240"/></g><g id="n33_5" class="C"><use href="#R" x="292"/></g><g id="n33_6" class="D"><use href="#R" x="344"/></g><g id="n33_7" class="D"><use href="#R" x="396"/></g><g id="n33_8" class="C"><use href="#R" x="448"/></g><g id="n33_9"><use href="#R" x="500"/></g><g id="n33_10"><use href="#R" x="552"/></g><g id="n33_11"><use href="#R" x="604"/></g></g>
<g class="k" transform="translate(0 1778)"><g id="n34_1"><use href="#L" x="84"/></g><g id="n34_2" class="D"><use href="#L" x="136"/></g><g id="n34_3" class="C"><use href="#L" x="188"/></g><g id="n34_4" class="C"><use href="#L" x="240"/></g><g id="n34_5" class="D"><use href="#L" x="292"/></g><g id="n34_6" class="D"><use href="#L" x="344"/></g><g id="n34_7" class="C"><use href="#L" x="396"/></g><g id="n34_8"><use href="#L" x="448"/></g><g id="n34_9"><use href="#L" x="500"/></g><g id="n34_10"><use href="#L" x="552"/></g><g id="n34_11"><use href="#L" x="604"/></g></g>
<g class="k" transform="translate(0 1830)"><g id="n35_1"><use href="#R" x="84"/></g><g id="n35_2"><use href="#R" x="136"/></g><g id="n35_3" class="D"><use href="#R" x="188"/></g><g id="n35_4" class="C"><use href="#R" x="240"/></g><g id="n35_5" class="D"><use href="#R" x="292"/></g><g id="n35_6" class="C"><use href="#R" x="344"/></g><g id="n35_7"><use href="#R" x="396"/></g><g id="n35_8"><use href="#R" x="448"/></g><g id="n35_9"><use href="#R" x="500"/></g><g id="n35_10"><use href="#R" x="552"/></g><g id="n35_11"><use href="#R" x="604"/></g></g>
<g class="k" transform="translate(0 1882)"><g id="n36_1" class="D"><use href="#L" x="84"/></g><g id="n36_2"><use href="#L" x="136"/></g><g id="n36_3"><use href="#L" x="188"/></g><g id="n36_4" class="C"><use href="#L" x="240"/></g><g id="n36_5" class="C"><use href="#L" x="292"/></g><g id="n36_6"><use href="#L" x="344"/></g><g id="n36_7"><use href="#L" x="396"/></g><g id="n36_8"><use href="#L" x="448"/></g><g id="n36_9"><use href="#L" x="500"/></g><g id="n36_10"><use href="#L" x="552"/></g><g id="n36_11"><use href="#L" x="604"/></g></g>
<g class="k" transform="translate(0 1934)"><g id="n37_1"><use href="#R" x="84"/></g><g id="n37_2"><use href="#R" x="136"/></g><g id="n37_3"><use href="#R" x="188"/></g><g id="n37_4"><use href="#R" x="240"/></g><g id="n37_5"><use href="#R" x="292"/></g><g id="n37_6"><use href="#R" x="344"/></g><g id="n37_7"><use href="#R" x="396"/></g><g id="n37_8" class="C"><use href="#R" x="448"/></g><g id="n37_9" class="C"><use href="#R" x="500"/></g><g id="n37_10"><use href="#R" x="552"/></g><g id="n37_11"><use href="#R" x="604"/></g></g>
<g class="k" transform="translate(0 1986)"><g id="n38_1"><use href="#L" x="84"/></g><g id="n38_2"><use href="#L" x="136"/></g><g id="n38_3"><use href="#L" x="188"/></g><g id="n38_4"><use href="#L" x="240"/></g><g id="n38_5"><use href="#L" x="292"/></g><g id="n38_6"><use href="#L" x="344"/></g><g id="n38_7"><use href="#L" x="396"/></g><g id="n38_8" class="C"><use href="#L" x="448"/></g><g id="n38_9" class="C"><use href="#L" x="500"/></g><g id="n38_10"><use href="#L" x="552"/></g><g id="n38_11"><use href="#L" x="604"/></g></g>
<g class="k" transform="translate(0 2038)"><g id="n39_1"><use href="#R" x="84"/></g><g id="n39_2"><use href="#R" x="136"/></g><g id="n39_3" class="D"><use href="#R" x="188"/></g><g id="n39_4" class="D"><use href="#R" x="240"/></g><g id="n39_5"><use href="#R" x="292"/></g><g id="n39_6"><use href="#R" x="344"/></g><g id="n39_7"><use href="#R" x="396"/></g><g id="n39_8"><use href="#R" x="448"/></g><g id="n39_9"><use href="#R" x="500"/></g><g id="n39_10"><use href="#R" x="552"/></g><g id="n39_11"><use href="#R" x="604"/></g></g>
<g class="k" transform="translate(0 2090)"><g id="n40_1"><use href="#L" x="84"/></g><g id="n40_2"><use href="#L" x="136"/></g><g id="n40_3" class="D"><use href="#L" x="188"/></g><g id="n40_4" class="D"><use href="#L" x="240"/></g><g id="n40_5"><use href="#L" x="292"/></g><g id="n40_6"><use href="#L" x="344"/></g><g id="n40_7"><use href="#L" x="396"/></g><g id="n40_8"><use href="#L" x="448"/></g><g id="n40_9"><use href="#L" x="500"/></g><g id="n40_10"><use href="#L" x="552"/></g><g id="n40_11"><use href="#L" x="604"/></g></g>
<g class="k" transform="translate(0 2142)"><g id="n41_1"><use href="#R" x="84"/></g><g id="n41_2"><use href="#R" x="136"/></g><g id="n41_3"><use href="#R" x="188"/></g><g id="n41_4"><use href="#R" x="240"/></g><g id="n41_5"><use href="#R" x="292"/></g><g id="n41_6"><use href="#R" x="344"/></g><g id="n41_7"><use href="#R" x="396"/></g><g id="n41_8"><use href="#R" x="448"/></g><g id="n41_9"><use href="#R" x="500"/></g><g id="n41_10" class="B"><use href="#R" x="552"/></g><g id="n41_11"><use href="#R" x="604"/></g></g>
<g class="k" transform="translate(0 2194)"><g id="n42_1"><use href="#L" x="84"/></g><g id="n42_2"><use href="#L" x="136"/></g><g id="n42_3"><use href="#L" x="188"/></g><g id="n42_4"><use href="#L" x="240"/></g><g id="n42_5"><use href="#L" x="292"/></g><g id="n42_6"><use href="#L" x="344"/></g><g id="n42_7"><use href="#L" x="396"/></g><g id="n42_8"><use href="#L" x="448"/></g><g id="n42_9"><use href="#L" x="500"/></g><g id="n42_10"><use href="#L" x="552"/></g><g id="n42_11"><use href="#L" x="604"/></g></g>
<g class="k" transform="translate(0 2246)"><g id="n43_1"><use href="#R" x="84"/></g><g id="n43_2"><use href="#R" x="136"/></g><g id="n43_3"><use href="#R" x="188"/></g><g id="n43_4"><use href="#R" x="240"/></g><g id="n43_5"><use href="#R" x="292"/></g><g id="n43_6" class="C"><use href="#R" x="344"/></g><g id="n43_7"><use href="#R" x="396"/></g><g id="n43_8"><use href="#R" x="448"/></g><g id="n43_9"><use href="#R" x="500"/></g><g id="n43_10"><use href="#R" x="552"/></g><g id="n43_11"><use href="#R" x="604"/></g></g>
<g class="k" transform="translate(0 2298)"><g id="n44_1"><use href="#L" x="84"/></g><g id="n44_2"><use href="#L" x="136"/></g><g id="n44_3"><use href="#L" x="188"/></g><g id="n44_4"><use href="#L" x="240"/></g><g id="n44_5"><use href="#L" x="292"/></g><g id="n44_6"><use href="#L" x="344"/></g><g id="n44_7"><use href="#L" x="396"/></g><g id="n44_8"><use href="#L" x="448"/></g><g id="n44_9"><use href="#L" x="500"/></g><g id="n44_10"><use href="#L" x="552"/></g><g id="n44_11"><use href="#L" x="604"/></g></g>
<g class="k" transform="translate(0 2350)"><g id="n45_1"><use href="#R" x="84"/></g><g id="n45_2"><use href="#R" x="136"/></g><g id="n45_3"><use href="#R" x="188"/></g><g id="n45_4"><use href="#R" x="240"/></g><g id="n45_5"><use href="#R" x="292"/></g><g id="n45_6"><use href="#R" x="344"/></g><g id="n45_7"><use href="#R" x="396"/></g><g id="n45_8"><use href="#R" x="448"/></g><g id="n45_9"><use href="#R" x="500"/></g><g id="n45_10"><use href="#R" x="552"/></g><g id="n45_11"><use href="#R" x="604"/></g></g>
<g class="k" transform="translate(0 2402)"><g id="n46_1"><use href="#L" x="84"/></g><g id="n46_2"><use href="#L" x="136"/></g><g id="n46_3"><use href="#L" x="188"/></g><g id="n46_4"><use href="#L" x="240"/></g><g id="n46_5"><use href="#L" x="292"/></g><g id="n46_6"><use href="#L" x="344"/></g><g id="n46_7"><use href="#L" x="396"/></g><g id="n46_8"><use href="#L" x="448"/></g><g id="n46_9"><use href="#L" x="500"/></g><g id="n46_10"><use href="#L" x="552"/></g><g id="n46_11"><use href="#L" x="604"/></g></g>
<g class="k" transform="translate(0 2454)"><g id="n47_1"><use href="#R" x="84"/></g><g id="n47_2"><use href="#R" x="136"/></g><g id="n47_3"><use href="#R" x="188"/></g><g id="n47_4"><use href="#R" x="240"/></g><g id="n47_5"><use href="#R" x="292"/></g><g id="n47_6"><use href="#R" x="344"/></g><g id="n47_7"><use href="#R" x="396"/></g><g id="n47_8"><use href="#R" x="448"/></g><g id="n47_9"><use href="#R" x="500"/></g><g id="n47_10"><use href="#R" x="552"/></g><g id="n47_11"><use href="#R" x="604"/></g></g>
<g class="k" transform="translate(0 2506)"><g id="n48_1"><use href="#L" x="84"/></g><g id="n48_2"><use href="#L" x="136"/></g><g id="n48_3"><use href="#L" x="188"/></g><g id="n48_4"><use href="#L" x="240"/></g><g id="n48_5"><use href="#L" x="292"/></g><g id="n48_6"><use href="#L" x="344"/></g><g id="n48_7"><use href="#L" x="396"/></g><g id="n48_8"><use href="#L" x="448"/></g><g id="n48_9"><use href="#L" x="500"/></g><g id="n48_10"><use href="#L" x="552"/></g><g id="n48_11"><use href="#L" x="604"/></g></g>
<g class="k" transform="translate(0 2558)"><g id="n49_1"><use href="#R" x="84"/></g><g id="n49_2"><use href="#R" x="136"/></g><g id="n49_3"><use href="#R" x="188"/></g><g id="n49_4"><use href="#R" x="240"/></g><g id="n49_5"><use href="#R" x="292"/></g><g id="n49_6"><use href="#R" x="344"/></g><g id="n49_7"><use href="#R" x="396"/></g><g id="n49_8"><use href="#R" x="448"/></g><g id="n49_9"><use href="#R" x="500"/></g><g id="n49_10"><use href="#R" x="552"/></g><g id="n49_11"><use href="#R" x="604"/></g></g>
<g class="k" transform="translate(0 2610)"><g id="n50_1"><use href="#L" x="84"/></g><g id="n50_2"><use href="#L" x="136"/></g><g id="n50_3"><use href="#L" x="188"/></g><g id="n50_4"><use href="#L" x="240"/></g><g id="n50_5"><use href="#L" x="292"/></g><g id="n50_6"><use href="#L" x="344"/></g><g id="n50_7"><use href="#L" x="396"/></g><g id="n50_8"><use href="#L" x="448"/></g><g id="n50_9"><use href="#L" x="500"/></g><g id="n50_10"><use href="#L" x="552"/></g><g id="n50_11"><use href="#L" x="604"/></g></g>
<g class="k" transform="translate(0 2662)"><g id="n51_1"><use href="#R" x="84"/></g><g id="n51_2"><use href="#R" x="136"/></g><g id="n51_3"><use href="#R" x="188"/></g><g id="n51_4"><use href="#R" x="240"/></g><g id="n51_5"><use href="#R" x="292"/></g><g id="n51_6"><use href="#R" x="344"/></g><g id="n51_7"><use href="#R" x="396"/></g><g id="n51_8"><use href="#R" x="448"/></g><g id="n51_9"><use href="#R" x="500"/></g><g id="n51_10"><use href="#R" x="552"/></g><g id="n51_11"><use href="#R" x="604"/></g></g>
<g class="k" transform="translate(0 2714)"><g id="n52_1"><use href="#L" x="84"/></g><g id="n52_2"><use href="#L" x="136"/></g><g id="n52_3"><use href="#L" x="188"/></g><g id="n52_4"><use href="#L" x="240"/></g><g id="n52_5"><use href="#L" x="292"/></g><g id="n52_6"><use href="#L" x="344"/></g><g id="n52_7"><use href="#L" x="396"/></g><g id="n52_8"><use href="#L" x="448"/></g><g id="n52_9"><use href="#L" x="500"/></g><g id="n52_10"><use href="#L" x="552"/></g><g id="n52_11"><use href="#L" x="604"/></g></g>
<g class="k" transform="translate(0 2766)"><g id="n53_1"><use href="#R" x="84"/></g><g id="n53_2"><use href="#R" x="136"/></g><g id="n53_3"><use href="#R" x="188"/></g><g id="n53_4"><use href="#R" x="240"/></g><g id="n53_5"><use href="#R" x="292"/></g><g id="n53_6"><use href="#R" x="344"/></g><g id="n53_7"><use href="#R" x="396"/></g><g id="n53_8"><use href="#R" x="448"/></g><g id="n53_9"><use href="#R" x="500"/></g><g id="n53_10"><use href="#R" x="552"/></g><g id="n53_11"><use href="#R" x="604"/></g></g>
<g class="k" transform="translate(0 2818)"><g id="n54_1"><use href="#L" x="84"/></g><g id="n54_2"><use href="#L" x="136"/></g><g id="n54_3"><use href="#L" x="188"/></g><g id="n54_4"><use href="#L" x="240"/></g><g id="n54_5"><use href="#L" x="292"/></g><g id="n54_6"><use href="#L" x="344"/></g><g id="n54_7"><use href="#L" x="396"/></g><g id="n54_8"><use href="#L" x="448"/></g><g id="n54_9"><use href="#L" x="500"/></g><g id="n54_10"><use href="#L" x="552"/></g><g id="n54_11"><use href="#L" x="604"/></g></g>
<g class="k" transform="translate(0 2870)"><g id="n55_1"><use href="#R" x="84"/></g><g id="n55_2"><use href="#R" x="136"/></g><g id="n55_3"><use href="#R" x="188"/></g><g id="n55_4"><use href="#R" x="240"/></g><g id="n55_5"><use href="#R" x="292"/></g><g id="n55_6"><use href="#R" x="344"/></g><g id="n55_7"><use href="#R" x="396"/></g><g id="n55_8"><use href="#R" x="448"/></g><g id="n55_9"><use href="#R" x="500"/></g><g id="n55_10"><use href="#R" x="552"/></g><g id="n55_11"><use href="#R" x="604"/></g></g>
<g class="k" transform="translate(0 2922)"><g id="n56_1"><use href="#L" x="84"/></g><g id="n56_2"><use href="#L" x="136"/></g><g id="n56_3"><use href="#L" x="188"/></g><g id="n56_4"><use href="#L" x="240"/></g><g id="n56_5"><use href="#L" x="292"/></g><g id="n56_6"><use href="#L" x="344"/></g><g id="n56_7"><use href="#L" x="396"/></g><g id="n56_8"><use href="#L" x="448"/></g><g id="n56_9"><use href="#L" x="500"/></g><g id="n56_10"><use href="#L" x="552"/></g><g id="n56_11"><use href="#L" x="604"/></g></g>
</g>
<g id="watermark">
<rect x="266" y="1484" width="156" height="17" fill="#fff" fill-opacity="0.45"/>
<text x="344" y="1498" text-anchor="middle" textLength="154" lengthAdjust="spacingAndGlyphs" font-family="'Liberation Sans', Arial, sans-serif" font-size="16" font-weight="bold" fill="#333">BRACELETBOOK.COM</text>
</g>
</svg>
